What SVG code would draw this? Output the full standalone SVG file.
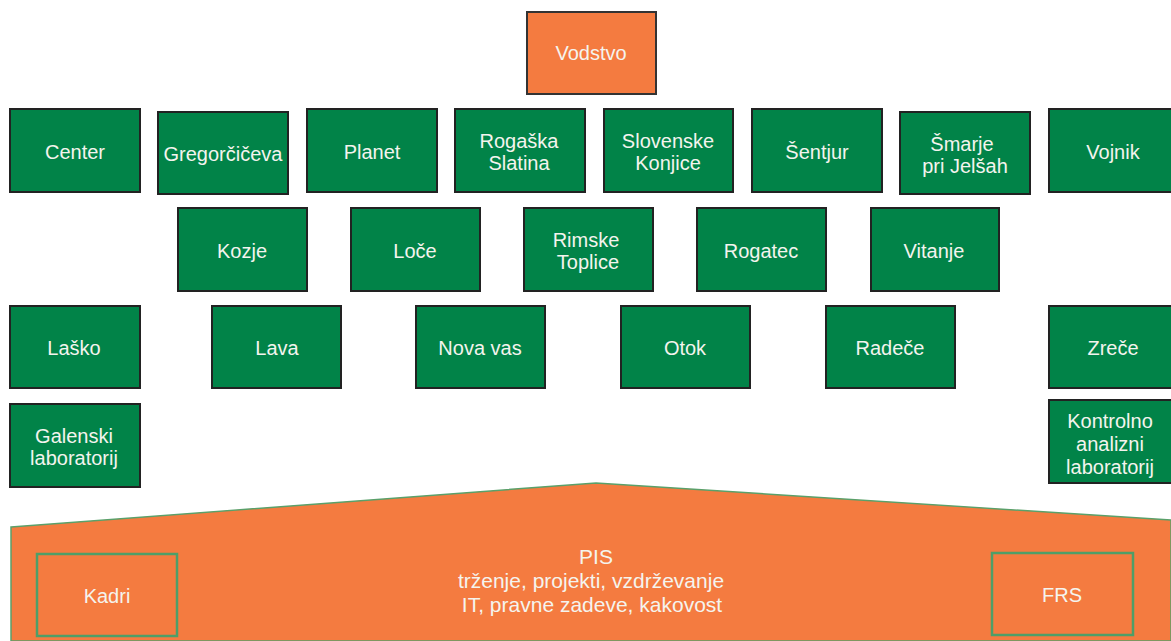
<svg xmlns="http://www.w3.org/2000/svg" width="1171" height="641" viewBox="0 0 1171 641">
<style>
.g{fill:#018348;stroke:#222;stroke-width:2}
.o{fill:#f47b40;stroke:#333;stroke-width:2}
.ib{fill:none;stroke:#4e9e68;stroke-width:2.5}
.t{font-family:"Liberation Sans",Arial,sans-serif;font-size:20px;fill:#f4f4ee;text-anchor:middle}
.p{font-size:21px}
</style>
<rect width="1171" height="641" fill="#fff"/>
<g id="pis">
<polygon points="11,527 596,483 1171,520 1171,641 11,641" fill="#f47b40" stroke="#5aa06a" stroke-width="1.5"/>
<text class="t p" x="596" y="564">PIS</text>
<text class="t p" x="591" y="588">trženje, projekti, vzdrževanje</text>
<text class="t p" x="592" y="612">IT, pravne zadeve, kakovost</text>
</g>
<g id="kadri"><rect class="ib" x="37" y="554" width="140" height="82"/><text class="t" x="107" y="603">Kadri</text></g>
<g id="frs"><rect class="ib" x="992" y="553" width="141" height="82"/><text class="t" x="1062" y="602">FRS</text></g>
<g id="vodstvo"><rect class="o" x="527" y="12" width="129" height="82"/><text class="t" x="591" y="60">Vodstvo</text></g>
<g id="center"><rect class="g" x="10" y="109" width="130" height="83"/><text class="t" x="75" y="159">Center</text></g>
<g id="gregorciceva"><rect class="g" x="158" y="112" width="130" height="82"/><text class="t" x="223" y="161">Gregorčičeva</text></g>
<g id="planet"><rect class="g" x="307" y="109" width="130" height="83"/><text class="t" x="372" y="159">Planet</text></g>
<g id="rogaska"><rect class="g" x="455" y="109" width="130" height="83"/><text class="t" x="519" y="148">Rogaška</text><text class="t" x="519" y="170">Slatina</text></g>
<g id="slovenske"><rect class="g" x="604" y="109" width="129" height="83"/><text class="t" x="668" y="148">Slovenske</text><text class="t" x="668" y="170">Konjice</text></g>
<g id="sentjur"><rect class="g" x="752" y="109" width="130" height="83"/><text class="t" x="817" y="159">Šentjur</text></g>
<g id="smarje"><rect class="g" x="900" y="112" width="130" height="82"/><text class="t" x="962" y="151">Šmarje</text><text class="t" x="965" y="173">pri Jelšah</text></g>
<g id="vojnik"><rect class="g" x="1049" y="109" width="132" height="83"/><text class="t" x="1113" y="159">Vojnik</text></g>
<g id="kozje"><rect class="g" x="178" y="208" width="129" height="83"/><text class="t" x="242" y="258">Kozje</text></g>
<g id="loce"><rect class="g" x="351" y="208" width="129" height="83"/><text class="t" x="415" y="258">Loče</text></g>
<g id="rimske"><rect class="g" x="524" y="208" width="129" height="83"/><text class="t" x="586" y="247">Rimske</text><text class="t" x="588" y="269">Toplice</text></g>
<g id="rogatec"><rect class="g" x="697" y="208" width="129" height="83"/><text class="t" x="761" y="258">Rogatec</text></g>
<g id="vitanje"><rect class="g" x="871" y="208" width="128" height="83"/><text class="t" x="934" y="258">Vitanje</text></g>
<g id="lasko"><rect class="g" x="10" y="306" width="130" height="82"/><text class="t" x="74" y="355">Laško</text></g>
<g id="lava"><rect class="g" x="212" y="306" width="129" height="82"/><text class="t" x="277" y="355">Lava</text></g>
<g id="novavas"><rect class="g" x="416" y="306" width="129" height="82"/><text class="t" x="480" y="355">Nova vas</text></g>
<g id="otok"><rect class="g" x="621" y="306" width="129" height="82"/><text class="t" x="685" y="355">Otok</text></g>
<g id="radece"><rect class="g" x="826" y="306" width="129" height="82"/><text class="t" x="890" y="355">Radeče</text></g>
<g id="zrece"><rect class="g" x="1049" y="306" width="132" height="82"/><text class="t" x="1113" y="355">Zreče</text></g>
<g id="galenski"><rect class="g" x="10" y="404" width="130" height="83"/><text class="t" x="74" y="443">Galenski</text><text class="t" x="74" y="465">laboratorij</text></g>
<g id="kontrolno"><rect class="g" x="1049" y="400" width="132" height="83"/><text class="t" x="1110" y="428">Kontrolno</text><text class="t" x="1110" y="451">analizni</text><text class="t" x="1110" y="474">laboratorij</text></g>
<g id="connectors"></g>
</svg>
